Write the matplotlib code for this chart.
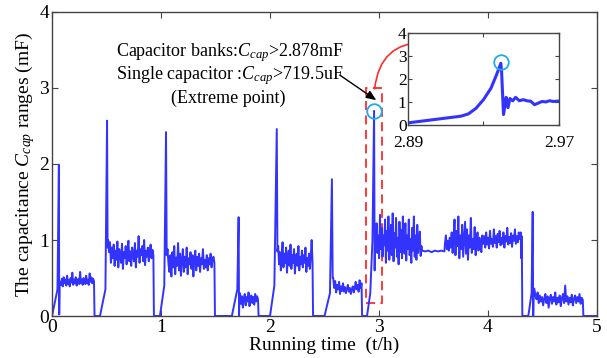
import numpy as np
import matplotlib
matplotlib.use("Agg")
import matplotlib.pyplot as plt
from matplotlib.patches import Rectangle

plt.rcParams['font.family'] = ['Liberation Serif', 'DejaVu Serif']
plt.rcParams['mathtext.fontset'] = 'custom'
plt.rcParams['mathtext.rm'] = 'Liberation Serif'
plt.rcParams['mathtext.it'] = 'Liberation Serif:italic'

# ---- anchor points (ramps, spikes, zero gaps) ----
anchor_t = [0.0, 0.05, 0.063, 0.066, 0.07,
            0.39, 0.44, 0.49, 0.505, 0.51,
            0.935, 0.99, 1.03, 1.046, 1.052,
            1.495, 1.65, 1.70, 1.712, 1.716, 1.72,
            1.895, 2.0, 2.04, 2.062, 2.068,
            2.395, 2.50, 2.55, 2.568, 2.575,
            2.845, 2.89, 2.92, 2.94, 2.955, 2.96, 2.965,
            3.392,
            4.305, 4.31, 4.315, 4.37, 4.40, 4.41, 4.415, 4.42,
            4.875, 5.0]
anchor_c = [0.0, 0.35, 1.99, 0.02, 0.45,
            0.0, 0.0, 0.35, 2.57, 0.9,
            0.0, 0.0, 0.4, 2.42, 0.8,
            0.0, 0.0, 0.35, 1.30, 0.0, 0.28,
            0.0, 0.0, 0.4, 2.46, 0.85,
            0.0, 0.0, 0.3, 1.80, 0.5,
            0.0, 0.0, 0.3, 1.0, 2.7, 0.6, 1.2,
            0.86,
            0.76, 1.05, 0.0, 0.0, 0.3, 1.37, 0.0, 0.35,
            0.0, 0.0]

# ---- noisy plateaus (start, end, values) ----
seg_a = [0.45,0.41,0.49,0.39,0.51,0.43,0.48,0.40,0.53,0.42,0.47,0.39,0.50,0.44,0.57,0.41,0.48,0.43,0.51,0.40,
         0.47,0.49,0.42,0.58,0.43,0.48,0.41,0.50,0.44,0.42,0.53,0.43,0.48,0.41,0.56,0.45,0.51,0.43,0.49,0.46]
seg_b = [1.0,0.84,0.97,0.70,0.90,0.76,0.94,0.66,0.86,0.74,0.98,0.64,0.88,0.80,0.70,0.95,0.62,0.84,0.76,0.92,
         0.68,0.87,0.99,0.72,0.85,0.66,0.90,0.80,0.72,0.96,0.64,0.86,0.78,1.05,0.70,0.88,0.80,0.92,0.72,1.00,
         0.67,0.86,0.78,0.90,0.72,0.84,0.94,0.76,0.87,0.80]
seg_c = [0.88,0.68,0.58,0.80,0.52,0.84,0.64,0.92,0.55,0.77,0.66,0.96,0.60,0.82,0.53,0.74,0.88,0.58,0.78,0.64,
         0.90,0.55,0.76,0.68,0.84,0.62,0.80,0.52,0.74,0.86,0.60,0.78,0.66,0.82,0.58,0.76,0.68,0.88,0.62,0.74,
         0.64,0.80,0.60,0.76,0.68,0.82,0.64,0.74,0.78,0.70]
seg_d = [0.30,0.16,0.26,0.11,0.23,0.29,0.14,0.25,0.19,0.31,0.13,0.23,0.27,0.17,0.25,0.15,0.29,0.19,0.26,0.22]
seg_e = [0.92,0.68,0.84,0.60,0.80,0.97,0.64,0.82,0.70,0.90,0.57,0.78,0.86,0.66,0.94,0.62,0.80,0.70,0.88,0.56,
         0.76,0.82,0.66,0.92,0.60,0.78,0.68,0.86,0.64,0.80,0.70,0.90,0.58,0.76,0.66,0.82,0.62,0.78,1.0,0.72]
seg_f = [0.50,0.37,0.46,0.31,0.41,0.35,0.45,0.29,0.39,0.33,0.43,0.32,0.38,0.30,0.36,0.41,0.32,0.37,0.29,0.35,
         0.39,0.31,0.36,0.45,0.35,0.41,0.32,0.47,0.37,0.43]
seg_g = [0.95,1.22,0.83,1.06,0.76,1.33,0.88,1.16,0.78,1.06,0.93,1.27,0.70,1.12,0.86,1.31,0.74,1.01,1.20,0.80,
         1.35,0.72,1.09,0.90,1.29,0.78,1.03,0.68,1.24,0.84,1.13,0.76,1.31,0.94,0.82,1.22,0.73,1.06,0.88,1.27,
         0.80,1.01,0.70,1.16,0.86,1.31,0.78,1.06,0.74,1.20,0.83,0.95,1.11,0.79,0.92]
seg_h = [0.86,0.85,0.86,0.84,0.86,0.85,0.86,0.85]
seg_i = [0.95,1.06,0.88,0.99,0.86,1.03,0.90,1.10,0.83,1.01,1.27,0.80,1.12,0.92,1.31,0.76,1.06,0.88,1.20,0.78,
         1.01,1.24,0.82,1.14,0.74,1.06,0.90,1.29,0.83,1.01,0.88,1.17,0.80,0.99,1.10,0.86,1.03,0.92,0.84,1.06,
         0.95,1.05,0.90,1.10,0.94,1.03,0.89,1.12,0.95,1.01,0.91,1.14,0.96,1.05,0.90,1.08,0.97,1.12,0.93,1.03,
         0.95,1.10,0.90,1.05,0.98,1.16,0.94,1.04,0.96,1.09,0.91,1.06,0.99,1.14,0.95,1.05,0.97,1.10,1.01,1.10]
seg_j = [0.36,0.27,0.22,0.31,0.17,0.27,0.19,0.25,0.14,0.23,0.29,0.17,0.26,0.11,0.23,0.28,0.16,0.25,0.19,0.31,
         0.15,0.24,0.18,0.27,0.13,0.23,0.29,0.17,0.40,0.19,0.26,0.15,0.24,0.18,0.28,0.14,0.23,0.27,0.17,0.25,
         0.19,0.29,0.16,0.24,0.21]
segments = [(0.075, 0.385, seg_a), (0.515, 0.93, seg_b), (1.06, 1.49, seg_c),
            (1.725, 1.89, seg_d), (2.075, 2.39, seg_e), (2.58, 2.84, seg_f),
            (2.97, 3.39, seg_g), (3.395, 3.60, seg_h), (3.605, 4.30, seg_i),
            (4.425, 4.87, seg_j)]

# ---- inset data ----
inset_t = [2.89, 2.918, 2.922, 2.926, 2.930, 2.934, 2.937, 2.9392, 2.9396, 2.9406, 2.9415, 2.942,
           2.943, 2.944, 2.9455, 2.947, 2.949, 2.951, 2.953, 2.955, 2.957, 2.959, 2.961, 2.963,
           2.965, 2.967, 2.97]
inset_c = [0.09, 0.38, 0.48, 0.72, 1.1, 1.6, 2.2, 2.68, 2.3, 0.45, 0.9, 1.2,
           0.75, 1.15, 1.05, 1.2, 1.05, 1.1, 1.05, 1.03, 0.88, 0.95, 1.02, 1.0,
           1.05, 1.02, 1.04]

# ---- assemble main series ----
t_all = list(anchor_t)
c_all = list(anchor_c)
for t0, t1, vals in segments:
    t_all.extend(np.linspace(t0, t1, len(vals)))
    c_all.extend(vals)
order = np.argsort(t_all, kind='stable')
t_all = np.asarray(t_all)[order]
c_all = np.asarray(c_all)[order]

blue = '#3333ff'
red = '#ff2a2a'
cyan = '#22aaee'
spine_col = '#444444'

fig = plt.figure(figsize=(6.07, 3.58), dpi=100)
ax = fig.add_axes([0.0857, 0.1173, 0.8978, 0.8492])
ax.plot(t_all, c_all, color=blue, lw=1.4)
ax.set_xlim(0, 5)
ax.set_ylim(0, 4)
ax.set_xticks([0, 1, 2, 3, 4, 5])
ax.set_yticks([0, 1, 2, 3, 4])
ax.tick_params(direction='in', top=True, right=True, length=4, labelsize=14,
               color=spine_col, pad=2)
for s in ax.spines.values():
    s.set_color(spine_col)
    s.set_linewidth(1.0)
ax.set_xlabel('Running time  (t/h)', fontsize=14, labelpad=1)
ax.set_ylabel('The capacitance $C_{cap}$ ranges (mF)', fontsize=14, labelpad=2)

# red dashed box
ax.add_patch(Rectangle((2.88, 0.17), 0.15, 2.83, fill=False, ec=red, lw=1.3,
                       ls=(0, (5, 3))))
# cyan circle
ax.plot([2.955], [2.70], 'o', ms=10.5, mfc='none', mec=cyan, mew=1.3)

# texts
ax.text(0.587, 3.47, 'Capacitor banks:$C_{cap}$>2.878mF', fontsize=13, va='center', ha='left')
ax.text(0.587, 3.17, 'Single capacitor :$C_{cap}$>719.5uF', fontsize=13, va='center', ha='left')
ax.text(1.615, 2.87, '(Extreme point)', fontsize=13, va='center', ha='center')

# black arrow
ax.annotate('', xy=(2.975, 2.84), xytext=(2.64, 3.17),
            arrowprops=dict(arrowstyle='-|>,head_length=0.6,head_width=0.25',
                            color='black', lw=1.0, shrinkA=0, shrinkB=0))
# red curved arrow
ax.annotate('', xy=(3.44, 3.60), xytext=(2.96, 2.99),
            arrowprops=dict(arrowstyle='-|>,head_length=0.7,head_width=0.3',
                            color=red, lw=1.2, shrinkA=0, shrinkB=0,
                            connectionstyle='arc3,rad=-0.45'))

# inset
ins = fig.add_axes([0.672, 0.651, 0.249, 0.257])
ins.plot(inset_t, inset_c, color=blue, lw=2.2)
ins.plot([2.9394], [2.75], 'o', ms=10.5, mfc='none', mec=cyan, mew=1.3)
ins.set_xlim(2.89, 2.97)
ins.set_ylim(0, 4)
ins.set_xticks([2.89, 2.93, 2.97])
ins.set_xticklabels(['2.89', '', '2.97'])
ins.set_yticks([0, 1, 2, 3, 4])
ins.tick_params(direction='in', top=True, right=True, length=3, labelsize=12.5,
                color=spine_col)
ins.tick_params(axis='x', pad=7)
ins.tick_params(axis='y', pad=1)
for s in ins.spines.values():
    s.set_color(spine_col)
    s.set_linewidth(1.0)

fig.savefig('out.png', dpi=100)
